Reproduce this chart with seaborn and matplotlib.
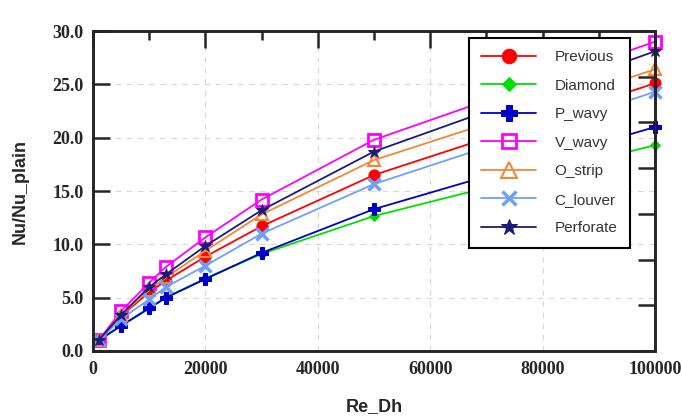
import matplotlib
matplotlib.use("Agg")
import matplotlib.pyplot as plt
import seaborn as sns
from matplotlib.ticker import MultipleLocator, FormatStrFormatter

# Re_Dh sample points and Nu/Nu_plain ratios
re_dh = [1000, 5000, 10000, 13000, 20000, 30000, 50000, 100000]
previous = [1.0, 3.3, 5.5, 6.6, 8.85, 11.7, 16.5, 25.1]
diamond = [1.0, 2.4, 4.05, 5.05, 6.8, 9.1, 12.65, 19.3]
p_wavy = [1.0, 2.35, 4.0, 5.0, 6.75, 9.2, 13.3, 21.0]
v_wavy = [1.0, 3.75, 6.4, 7.9, 10.65, 14.2, 19.8, 29.0]
o_strip = [1.0, 3.4, 5.7, 6.9, 9.4, 12.8, 17.9, 26.4]
c_louver = [1.0, 3.0, 4.85, 6.0, 8.0, 11.0, 15.65, 24.3]
perforate = [1.0, 3.4, 6.0, 7.2, 9.85, 13.2, 18.7, 28.1]

series = [
    ("Previous", previous, dict(color="#ff0000", marker="o", markersize=8, mfc="#ff0000", mec="#ff0000")),
    ("Diamond", diamond, dict(color="#00e000", marker="D", markersize=5.5, mfc="#00e000", mec="#00e000")),
    ("P_wavy", p_wavy, dict(color="#0000c8", marker="P", markersize=9, mfc="#0000c8", mec="#0000c8")),
    ("V_wavy", v_wavy, dict(color="#ff00ff", marker="s", markersize=8, mfc="none", mec="#ff00ff", mew=2)),
    ("O_strip", o_strip, dict(color="#f08838", marker="^", markersize=9, mfc="none", mec="#f08838", mew=1.5)),
    ("C_louver", c_louver, dict(color="#6fa0f8", marker="x", markersize=8, mec="#6fa0f8", mew=2.5)),
    ("Perforate", perforate, dict(color="#1c1c78", marker="*", markersize=9, mfc="#1c1c78", mec="#1c1c78")),
]

sns.set_style("white")
plt.rcParams["font.family"] = ["Liberation Sans", "DejaVu Sans"]

fig = plt.figure(figsize=(6.82, 4.19), dpi=100)
ax = fig.add_axes([0.1364, 0.1623, 0.824, 0.7637])

for name, vals, kw in series:
    sns.lineplot(x=re_dh, y=vals, ax=ax, label=name, lw=1.3, clip_on=False, **kw)

ax.set_xlim(0, 100000)
ax.set_ylim(0, 30)
ax.xaxis.set_major_locator(MultipleLocator(20000))
ax.xaxis.set_minor_locator(MultipleLocator(10000))
ax.yaxis.set_major_locator(MultipleLocator(5))
ax.yaxis.set_major_formatter(FormatStrFormatter("%.1f"))
ax.grid(True, which="major", ls=(0, (5, 5)), color="#d8d8d8", lw=0.8)

for s in ax.spines.values():
    s.set_linewidth(1.8)
    s.set_color("black")

ax.tick_params(which="major", direction="in", length=12, width=1.8, top=True, right=False,
               pad=7, labelsize=13)
ax.tick_params(which="minor", direction="in", length=6.5, width=1.8, top=True, right=False)
for lab in ax.get_xticklabels() + ax.get_yticklabels():
    lab.set_fontfamily("Liberation Serif")
    lab.set_fontweight("bold")
ax.tick_params(axis="y", pad=7)

ax.set_xlabel("Re_Dh", fontsize=13, fontweight="bold", labelpad=15)
ax.set_ylabel("Nu/Nu_plain", fontsize=13, fontweight="bold", labelpad=17)

# right-hand tick marks come from a second scale with seven divisions
ax2 = ax.twinx()
ax2.set_ylim(0, 7)
ax2.set_yticks(range(8))
ax2.set_yticklabels([])
ax2.tick_params(axis="y", direction="in", length=12, width=1.8)
for s in ax2.spines.values():
    s.set_linewidth(1.8)

handles, labels = ax.get_legend_handles_labels()
ax.get_legend().remove()
leg = ax2.legend(handles, labels, loc="upper left", bbox_to_anchor=(0.669, 0.978),
                 frameon=True, fancybox=False, framealpha=1, edgecolor="black",
                 fontsize=11, markerscale=1.3, handlelength=3.6, handletextpad=1.2,
                 labelspacing=0.95, borderpad=0.8, borderaxespad=0)
leg.get_frame().set_linewidth(1.5)
for t in leg.get_texts():
    t.set_color("#333333")

fig.savefig("out.png", dpi=100)
